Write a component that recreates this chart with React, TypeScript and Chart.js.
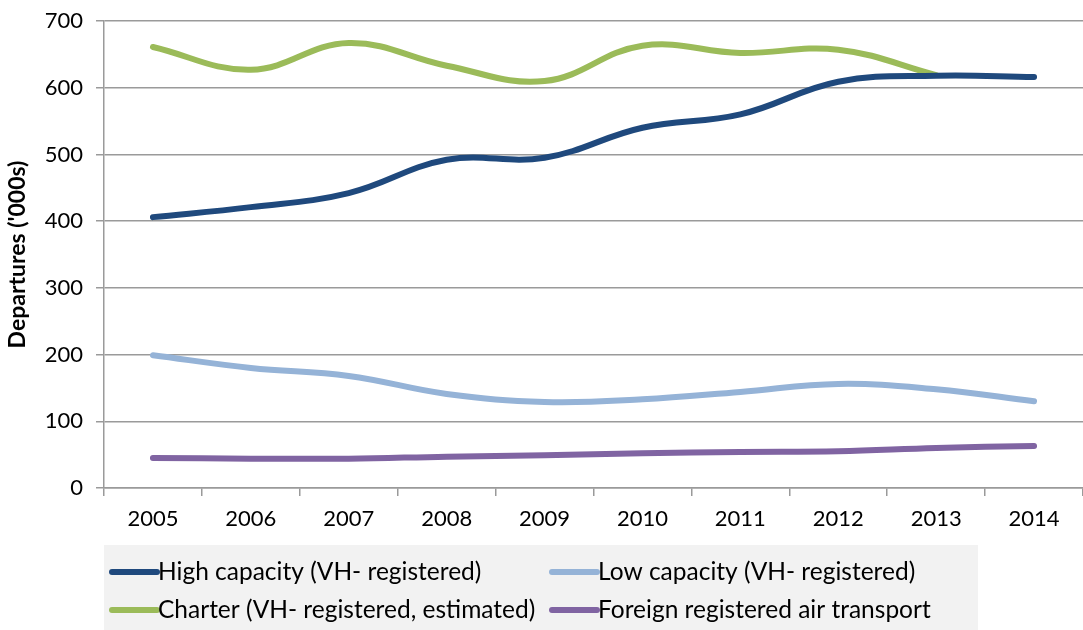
import React, { useEffect, useRef } from "react";
import { Chart, registerables } from "chart.js";

Chart.register(...registerables);

const years = ["2005", "2006", "2007", "2008", "2009", "2010", "2011", "2012", "2013", "2014"];
const highCapacity = [406, 421, 442, 492, 495, 540, 560, 609, 618, 616];
const lowCapacity = [199, 180, 168, 141, 129, 133, 144, 156, 148, 130];
const charter = [661, 627, 667, 633, 610, 663, 652, 657, 619, null];
const foreign = [45, 44, 44, 47, 49, 52, 54, 55, 60, 63];

const seriesLabels = [
  "High capacity (VH- registered)",
  "Low capacity (VH- registered)",
  "Charter (VH- registered, estimated)",
  "Foreign registered air transport",
];
const seriesColors = ["#1F497D", "#95B3D7", "#9BBB59", "#8064A2"];

const FONT = "Lato, 'Open Sans', sans-serif";

const legendPlugin = {
  id: "gridLegend",
  afterDraw(chart: any) {
    const ctx = chart.ctx;
    const left = chart.chartArea.left;
    ctx.save();
    ctx.fillStyle = "#F2F2F2";
    ctx.fillRect(left, 545, 978 - left, 630 - 545);
    ctx.font = `24.5px ${FONT}`;
    ctx.textBaseline = "middle";
    const cols = [112, 552];
    const rows = [572, 610];
    chart.data.datasets.forEach((ds: any, i: number) => {
      const x = cols[i % 2];
      const y = rows[Math.floor(i / 2)];
      ctx.strokeStyle = ds.borderColor;
      ctx.lineWidth = 6;
      ctx.lineCap = "round";
      ctx.beginPath();
      ctx.moveTo(x, y);
      ctx.lineTo(x + 45, y);
      ctx.stroke();
      ctx.fillStyle = "#000";
      ctx.fillText(ds.label, x + 46, y);
    });
    ctx.restore();
  },
};

export default function App() {
  const ref = useRef<HTMLCanvasElement>(null);
  useEffect(() => {
    document.body.style.margin = "0";
    const values = [highCapacity, lowCapacity, charter, foreign];
    const chart = new Chart(ref.current!, {
      type: "line",
      data: {
        labels: years,
        datasets: values.map((v, i) => ({
          label: seriesLabels[i],
          data: v,
          borderColor: seriesColors[i],
          backgroundColor: seriesColors[i],
          borderWidth: 6,
          pointRadius: 0,
          tension: 0.4,
          borderCapStyle: "round" as const,
          spanGaps: false,
        })),
      },
      options: {
        responsive: false,
        animation: false,
        layout: { padding: { top: 21, right: 0, bottom: 92, left: 0 } },
        plugins: {
          legend: { display: false },
          tooltip: { enabled: false },
        },
        scales: {
          x: {
            offset: true,
            grid: {
              offset: true,
              drawOnChartArea: false,
              drawTicks: true,
              tickLength: 8,
              color: "#9A9A9A",
              lineWidth: 1.5,
            },
            border: { color: "#9A9A9A", width: 1.5 },
            ticks: { color: "#000", font: { family: FONT, size: 22 }, padding: 10 },
            afterFit(scale: any) {
              scale.height = 50;
            },
          },
          y: {
            min: 0,
            max: 700,
            ticks: { stepSize: 100, color: "#000", font: { family: FONT, size: 22 }, padding: 13 },
            grid: { color: "#9A9A9A", lineWidth: 1.5, tickLength: 8 },
            border: { color: "#9A9A9A", width: 1.5 },
            title: {
              display: true,
              text: "Departures ('000s)",
              color: "#000",
              font: { family: FONT, size: 23, weight: "bold" },
              padding: { top: 4, bottom: 0 },
            },
            afterFit(scale: any) {
              scale.width = 104;
              scale.paddingTop = 0;
              scale.paddingBottom = 0;
            },
          },
        },
      },
      plugins: [legendPlugin],
    });
    return () => chart.destroy();
  }, []);
  return <canvas ref={ref} width={1083} height={630} style={{ display: "block" }} />;
}
